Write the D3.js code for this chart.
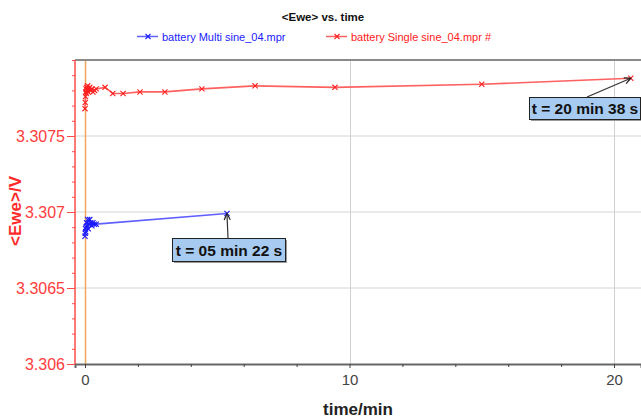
<!DOCTYPE html>
<html>
<head>
<meta charset="utf-8">
<script src="https://cdn.jsdelivr.net/npm/d3@7"></script>
<style>
  html, body { margin: 0; padding: 0; background: #fff; }
  svg { display: block; font-family: "Liberation Sans", Arial, sans-serif; }
</style>
</head>
<body>
<svg id="chart" width="641" height="418"></svg>
<script>
// ---- data ----
const chartTitle = "<Ewe> vs. time";
const seriesNames = ["battery Multi sine_04.mpr", "battery Single sine_04.mpr #"];
const xLabel = "time/min";
const yLabel = "<Ewe>/V";

const multiTime = [0.000, 0.010, 0.020, 0.030, 0.040, 0.060, 0.080, 0.100, 0.120, 0.150, 0.180, 0.220, 0.260, 0.300, 0.350, 0.420, 5.367];
const multiEwe  = [3.30684, 3.30686, 3.30689, 3.30687, 3.30690, 3.30693, 3.30691, 3.30695, 3.30689, 3.30692, 3.30695, 3.30693, 3.30691, 3.30693, 3.30692, 3.30692, 3.30699];

const singleTime = [0.000, 0.010, 0.020, 0.030, 0.040, 0.050, 0.060, 0.080, 0.100, 0.120, 0.150, 0.180, 0.220, 0.260, 0.300, 0.360, 0.420, 0.760, 1.050, 1.440, 2.080, 3.020, 4.420, 6.430, 9.450, 15.00, 20.633];
const singleEwe  = [3.30768, 3.30772, 3.30776, 3.30779, 3.30781, 3.30778, 3.30782, 3.30780, 3.30783, 3.30779, 3.30781, 3.30782, 3.30780, 3.30781, 3.30779, 3.30780, 3.30781, 3.30782, 3.30778, 3.30778, 3.30779, 3.30779, 3.30781, 3.30783, 3.30782, 3.30784, 3.30788];

const xTicks = [0, 10, 20];
const xMinorTicks = [2, 4, 6, 8, 12, 14, 16, 18];
const yTicks = [3.306, 3.3065, 3.307, 3.3075];
const yTickLabels = ["3.306", "3.3065", "3.307", "3.3075"];
const yMinorStep = 0.0001;

const annotationTexts = ["t = 05 min 22 s", "t = 20 min 38 s"];

// ---- layout ----
const svg = d3.select("#chart");
const L = 75, R = 641, T = 60, B = 364;
const x = d3.scaleLinear().domain([-0.378, 21.02]).range([L, R]);
const y = d3.scaleLinear().domain([3.306, 3.308]).range([B, T]);

const colors = { multiLine: "#6060ff", multiMark: "#1a1aff", singleLine: "#ff6060", singleMark: "#ff2020", axisRed: "#ff4a4a" };

// clip
svg.append("defs").append("clipPath").attr("id", "clip")
  .append("rect").attr("x", L).attr("y", T).attr("width", R - L).attr("height", B - T);

// gridlines
const grid = svg.append("g");
grid.selectAll("line.hg").data(yTicks.slice(1)).enter().append("line")
  .attr("x1", L).attr("x2", R).attr("y1", d => y(d)).attr("y2", d => y(d))
  .attr("stroke", "#d4d4d4").attr("stroke-width", 1);
grid.selectAll("line.vg").data(xTicks).enter().append("line")
  .attr("y1", T).attr("y2", B).attr("x1", d => Math.round(x(d)) + 0.5).attr("x2", d => Math.round(x(d)) + 0.5)
  .attr("stroke", d => d === 0 ? "#f5a55a" : "#d0d0d0").attr("stroke-width", d => d === 0 ? 1.5 : 1);

// top border
svg.append("line").attr("x1", L).attr("x2", R).attr("y1", T).attr("y2", T)
  .attr("stroke", "#8a8a8a").attr("stroke-width", 2);

// x axis
const xAxis = d3.axisBottom(x).tickValues(xTicks).tickFormat(d3.format("d")).tickSize(4).tickPadding(6);
const gx = svg.append("g").attr("transform", `translate(0,${B})`).call(xAxis);
gx.select(".domain").attr("stroke", "#666").attr("stroke-width", 2);
gx.selectAll(".tick line").attr("stroke", "#444");
gx.selectAll(".tick text").attr("fill", "#444").style("font-size", "15px").style("font-family", "Liberation Sans, Arial, sans-serif");
const gxm = svg.append("g").attr("transform", `translate(0,${B})`).call(d3.axisBottom(x).tickValues(xMinorTicks).tickSize(3).tickFormat(""));
gxm.select(".domain").remove();
gxm.selectAll(".tick line").attr("stroke", "#444");

// y axis
const yAxis = d3.axisLeft(y).tickValues(yTicks).tickFormat((d, i) => yTickLabels[i]).tickSize(8).tickPadding(2);
const gy = svg.append("g").attr("transform", `translate(${L},0)`).call(yAxis);
gy.select(".domain").attr("stroke", colors.axisRed).attr("stroke-width", 1.5).attr("d", `M0,${T}V${B}`);
gy.selectAll(".tick line").attr("stroke", colors.axisRed);
gy.selectAll(".tick text").attr("fill", "#ff3c3c").style("font-size", "16px").style("font-family", "Liberation Sans, Arial, sans-serif");
const yMinor = d3.range(3.306, 3.308 + 1e-9, yMinorStep).filter(v => !yTicks.some(t => Math.abs(t - v) < 1e-9));
const gym = svg.append("g").attr("transform", `translate(${L},0)`).call(d3.axisLeft(y).tickValues(yMinor).tickSize(3).tickFormat(""));
gym.select(".domain").remove();
gym.selectAll(".tick line").attr("stroke", colors.axisRed);

// axis titles
svg.append("text").attr("x", (L + R) / 2).attr("y", 415).attr("text-anchor", "middle")
  .style("font-weight", "bold").style("font-size", "17px").attr("fill", "#222").text(xLabel);
svg.append("text").attr("transform", `translate(21,211) rotate(-90)`).attr("text-anchor", "middle")
  .style("font-weight", "bold").style("font-size", "17px").attr("fill", "#ff2a2a").text(yLabel);

// chart title
svg.append("text").attr("x", 323).attr("y", 21).attr("text-anchor", "middle")
  .style("font-weight", "bold").style("font-size", "11.5px").attr("fill", "#111").text(chartTitle);

// series
function xMark(g, px, py, color, s = 2.6) {
  g.append("path").attr("d", `M${px - s},${py - s}L${px + s},${py + s}M${px - s},${py + s}L${px + s},${py - s}`)
    .attr("stroke", color).attr("stroke-width", 1.1).attr("fill", "none");
}
const plot = svg.append("g").attr("clip-path", "url(#clip)");
const line = d3.line().x(d => x(d[0])).y(d => y(d[1]));
const multi = multiTime.map((t, i) => [t, multiEwe[i]]);
const single = singleTime.map((t, i) => [t, singleEwe[i]]);

plot.append("path").datum(multi).attr("d", line).attr("fill", "none").attr("stroke", colors.multiLine).attr("stroke-width", 1.6);
multi.forEach(d => xMark(plot, x(d[0]), y(d[1]), colors.multiMark));
plot.append("path").datum(single).attr("d", line).attr("fill", "none").attr("stroke", colors.singleLine).attr("stroke-width", 1.6);
single.forEach(d => xMark(plot, x(d[0]), y(d[1]), colors.singleMark));

// legend
const legendItems = [
  { name: seriesNames[0], line: colors.multiLine, mark: colors.multiMark, text: "#2020ff", x0: 137 },
  { name: seriesNames[1], line: colors.singleLine, mark: colors.singleMark, text: "#ff2020", x0: 326 }
];
legendItems.forEach(it => {
  const g = svg.append("g");
  g.append("line").attr("x1", it.x0).attr("x2", it.x0 + 21).attr("y1", 36.5).attr("y2", 36.5).attr("stroke", it.line).attr("stroke-width", 1.5);
  xMark(g, it.x0 + 11, 36.5, it.mark, 2.5);
  g.append("text").attr("x", it.x0 + 25).attr("y", 40.5).style("font-size", "11px").attr("fill", it.text).text(it.name);
});

// annotations
const annots = [
  { text: annotationTexts[0], px: x(multiTime[multiTime.length - 1]), py: y(multiEwe[multiEwe.length - 1]), bx: 172, by: 238, bw: 113, bh: 23, ax: 228, ay: 238 },
  { text: annotationTexts[1], px: x(singleTime[singleTime.length - 1]), py: y(singleEwe[singleEwe.length - 1]), bx: 529, by: 97, bw: 111, bh: 22, ax: 587, ay: 97 }
];
annots.forEach(a => {
  const g = svg.append("g");
  g.append("line").attr("x1", a.ax).attr("y1", a.ay).attr("x2", a.px).attr("y2", a.py).attr("stroke", "#333").attr("stroke-width", 1.2);
  const ang = Math.atan2(a.py - a.ay, a.px - a.ax);
  const hl = 7, ha = 0.45;
  g.append("path").attr("d",
    `M${a.px - hl * Math.cos(ang - ha)},${a.py - hl * Math.sin(ang - ha)}L${a.px},${a.py}L${a.px - hl * Math.cos(ang + ha)},${a.py - hl * Math.sin(ang + ha)}`)
    .attr("fill", "none").attr("stroke", "#222").attr("stroke-width", 1.2);
  g.append("rect").attr("x", a.bx + 2).attr("y", a.by + 2).attr("width", a.bw).attr("height", a.bh).attr("fill", "#9a9a9a");
  g.append("rect").attr("x", a.bx + 0.5).attr("y", a.by + 0.5).attr("width", a.bw).attr("height", a.bh)
    .attr("fill", "#a6caf0").attr("stroke", "#222").attr("stroke-width", 1);
  g.append("text").attr("x", a.bx + a.bw / 2 + 0.5).attr("y", a.by + a.bh / 2 + 6).attr("text-anchor", "middle")
    .style("font-weight", "bold").style("font-size", "15.5px").attr("fill", "#111").text(a.text);
});
</script>
</body>
</html>
